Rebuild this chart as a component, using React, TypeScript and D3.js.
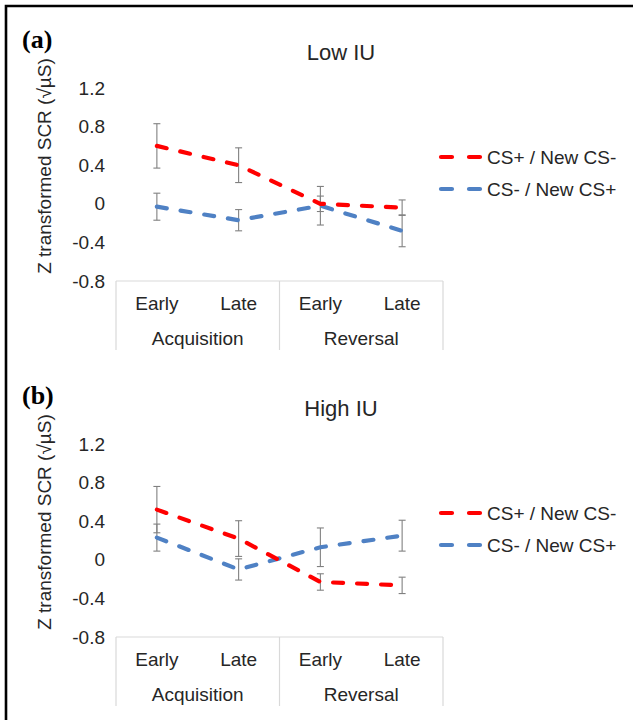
// SCR line chart, two panels (Low IU / High IU)
import React, { useEffect, useRef } from 'react'
import * as d3 from 'd3'

const stages = ['Early', 'Late', 'Early', 'Late']
const phases = ['Acquisition', 'Reversal']
const yTicks = [1.2, 0.8, 0.4, 0, -0.4, -0.8]
const seriesNames = ['CS+ / New CS-', 'CS- / New CS+']

// Low IU
const lowCSplus = [0.6, 0.4, 0.0, -0.04]
const lowCSplusErr = [0.23, 0.18, 0.08, 0.08]
const lowCSminus = [-0.03, -0.17, -0.02, -0.28]
const lowCSminusErr = [0.14, 0.11, 0.2, 0.165]

// High IU
const highCSplus = [0.52, 0.22, -0.23, -0.265]
const highCSplusErr = [0.24, 0.185, 0.085, 0.085]
const highCSminus = [0.23, -0.1, 0.13, 0.25]
const highCSminusErr = [0.14, 0.11, 0.2, 0.16]

const panels = [
  { tag: '(a)', title: 'Low IU', series: [[lowCSplus, lowCSplusErr], [lowCSminus, lowCSminusErr]] },
  { tag: '(b)', title: 'High IU', series: [[highCSplus, highCSplusErr], [highCSminus, highCSminusErr]] },
]

const colors = ['#ff0000', '#4f81c4']
const textColor = '#262626'
const font = '"Liberation Sans", Arial, sans-serif'

export default function App() {
  const ref = useRef<SVGSVGElement>(null)

  useEffect(() => {
    const svg = d3.select(ref.current)
    svg.selectAll('*').remove()

    // outer frame, cut off on the right and bottom
    svg.append('path')
      .attr('d', 'M6,735 L6,6 L650,6')
      .attr('fill', 'none')
      .attr('stroke', '#000')
      .attr('stroke-width', 2.6)

    const x = d3.scaleBand<number>().domain(d3.range(stages.length)).range([116, 443])
    const cx = (i: number) => (x(i) as number) + x.bandwidth() / 2

    panels.forEach((p, pi) => {
      const off = pi * 356
      const g = svg.append('g').attr('transform', 'translate(0,' + off + ')')
      const y = d3.scaleLinear().domain([-0.8, 1.2]).range([281, 88])

      g.append('text')
        .attr('x', 22).attr('y', 48)
        .attr('font-family', '"Liberation Serif", "Times New Roman", serif')
        .attr('font-weight', 'bold').attr('font-size', 26)
        .attr('fill', '#000')
        .text(p.tag)

      g.append('text')
        .attr('x', 341).attr('y', 60)
        .attr('text-anchor', 'middle')
        .attr('font-family', font).attr('font-size', 22)
        .attr('fill', textColor)
        .text(p.title)

      // y axis title
      g.append('text')
        .attr('transform', 'translate(51,' + 166 + ') rotate(-90)')
        .attr('text-anchor', 'middle')
        .attr('font-family', font).attr('font-size', 19)
        .attr('fill', textColor)
        .text('Z transformed SCR (√µS)')

      // tick labels, no axis line
      g.selectAll('.ytick').data(yTicks).enter().append('text')
        .attr('x', 105).attr('y', (d) => y(d))
        .attr('dy', '0.35em')
        .attr('text-anchor', 'end')
        .attr('font-family', font).attr('font-size', 19)
        .attr('fill', textColor)
        .text((d) => String(d))

      // category box
      const boxTop = y(-0.8)
      const boxBottom = boxTop + 69
      g.append('line')
        .attr('x1', 116).attr('x2', 443)
        .attr('y1', boxTop).attr('y2', boxTop)
        .attr('stroke', '#d9d9d9').attr('stroke-width', 1.2)
      ;[0, 2, 4].forEach((i) => {
        const xx = i < 4 ? (x(i) as number) : 443
        g.append('line')
          .attr('x1', xx).attr('x2', xx)
          .attr('y1', boxTop).attr('y2', boxBottom)
          .attr('stroke', '#d9d9d9').attr('stroke-width', 1.2)
      })

      g.selectAll('.stage').data(stages).enter().append('text')
        .attr('x', (d, i) => cx(i)).attr('y', boxTop + 22)
        .attr('dy', '0.35em')
        .attr('text-anchor', 'middle')
        .attr('font-family', font).attr('font-size', 19)
        .attr('fill', textColor)
        .text((d) => d)

      g.selectAll('.phase').data(phases).enter().append('text')
        .attr('x', (d, i) => (cx(i * 2) + cx(i * 2 + 1)) / 2).attr('y', boxTop + 57)
        .attr('dy', '0.35em')
        .attr('text-anchor', 'middle')
        .attr('font-family', font).attr('font-size', 19)
        .attr('fill', textColor)
        .text((d) => d)

      // error bars first, lines on top
      p.series.forEach(([vals, errs]) => {
        vals.forEach((v, i) => {
          const top = y(v + errs[i])
          const bot = y(v - errs[i])
          const eb = g.append('g').attr('stroke', '#808080').attr('stroke-width', 1.1)
          eb.append('line').attr('x1', cx(i)).attr('x2', cx(i)).attr('y1', top).attr('y2', bot)
          eb.append('line').attr('x1', cx(i) - 3.5).attr('x2', cx(i) + 3.5).attr('y1', top).attr('y2', top)
          eb.append('line').attr('x1', cx(i) - 3.5).attr('x2', cx(i) + 3.5).attr('y1', bot).attr('y2', bot)
        })
      })

      const line = d3.line<number>().x((d, i) => cx(i)).y((d) => y(d))
      p.series.slice().reverse().forEach(([vals], k) => {
        const si = p.series.length - 1 - k
        g.append('path')
          .datum(vals)
          .attr('d', line)
          .attr('fill', 'none')
          .attr('stroke', colors[si])
          .attr('stroke-width', 4.2)
          .attr('stroke-dasharray', '10,14')
          .attr('stroke-linecap', 'round')
      })

      // legend
      seriesNames.forEach((name, si) => {
        const ly = 157 + si * 32
        g.append('line')
          .attr('x1', 441).attr('x2', 480)
          .attr('y1', ly).attr('y2', ly)
          .attr('stroke', colors[si]).attr('stroke-width', 4.2)
          .attr('stroke-dasharray', '11,17')
          .attr('stroke-linecap', 'round')
        g.append('text')
          .attr('x', 487).attr('y', ly)
          .attr('dy', '0.35em')
          .attr('font-family', font).attr('font-size', 19)
          .attr('fill', textColor)
          .text(name)
      })
    })
  }, [])

  return (
    <svg
      ref={ref}
      width={633}
      height={720}
      style={{ position: 'absolute', left: 0, top: 0, background: '#fff' }}
    />
  )
}
